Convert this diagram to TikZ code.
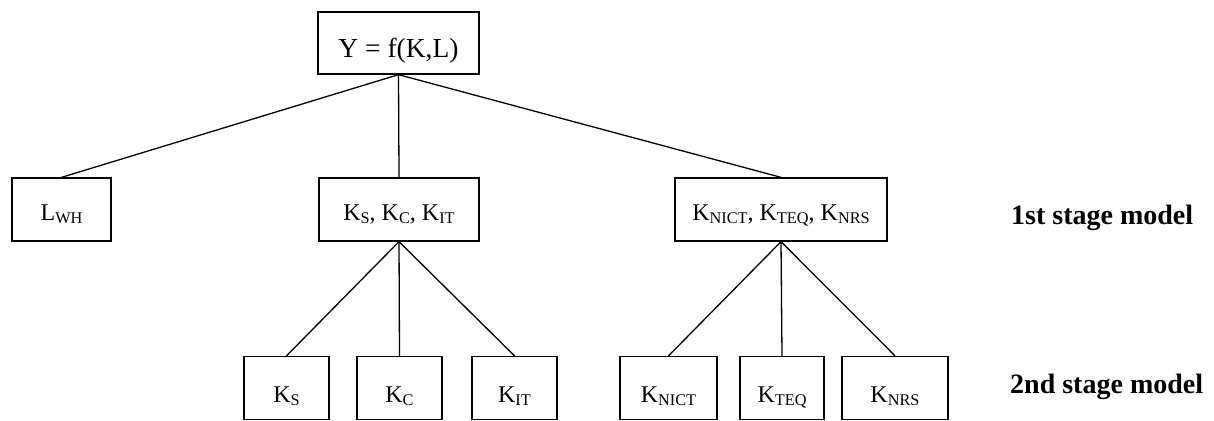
\documentclass[tikz,border=0pt]{standalone}
\usepackage{fontspec}
\setmainfont{Liberation Serif}
\newcommand{\sbx}[1]{\raisebox{-3.3pt}{\fontsize{16.3}{16.3}\selectfont #1}}
\begin{document}
\begin{tikzpicture}[x=1pt,y=-1pt,
  box/.style={draw, line width=1.3pt, inner sep=0pt, minimum height=63pt, text depth=0pt},
  midrow/.style={box, text height=21pt, font=\fontsize{24}{24}\selectfont},
  botrow/.style={box, text height=29pt, font=\fontsize{24}{24}\selectfont},
  link/.style={line width=1.3pt},
  stagelabel/.style={anchor=base west, inner sep=0pt, font=\fontsize{28}{28}\selectfont\bfseries}]
\useasboundingbox (0,0) rectangle (1214,420);
\node[box, minimum width=161pt, minimum height=62pt, text height=30pt, font=\fontsize{27.5}{27.5}\selectfont] (top) at (398.5,43) {Y = f(K,L)};
\node[midrow, minimum width=99pt] (lwh) at (61.5,209.5) {L\sbx{WH}};
\node[midrow, minimum width=160pt] (mid) at (399,209.5) {K\sbx{S}, K\sbx{C}, K\sbx{IT}};
\node[midrow, minimum width=212pt] (rgt) at (781,209.5) {K\sbx{NICT}, K\sbx{TEQ}, K\sbx{NRS}};
\node[botrow, minimum width=85pt] (ks) at (286.5,388) {K\sbx{S}};
\node[botrow, minimum width=85pt] (kc) at (399.5,388) {K\sbx{C}};
\node[botrow, minimum width=85pt] (kit) at (514.5,388) {K\sbx{IT}};
\node[botrow, minimum width=97pt] (knict) at (668.5,388) {K\sbx{NICT}};
\node[botrow, minimum width=84pt] (kteq) at (782,388) {K\sbx{TEQ}};
\node[botrow, minimum width=106pt] (knrs) at (895,388) {K\sbx{NRS}};
\node[stagelabel] (s1) at (1011,224) {1st stage model};
\node[stagelabel] (s2) at (1010,393) {2nd stage model};
\draw[link] (top.south) -- (lwh.north);
\draw[link] (top.south) -- (mid.north);
\draw[link] (top.south) -- (rgt.north);
\draw[link] (mid.south) -- (ks.north);
\draw[link] (mid.south) -- (kc.north);
\draw[link] (mid.south) -- (kit.north);
\draw[link] (rgt.south) -- (knict.north);
\draw[link] (rgt.south) -- (kteq.north);
\draw[link] (rgt.south) -- (knrs.north);
\end{tikzpicture}
\end{document}
